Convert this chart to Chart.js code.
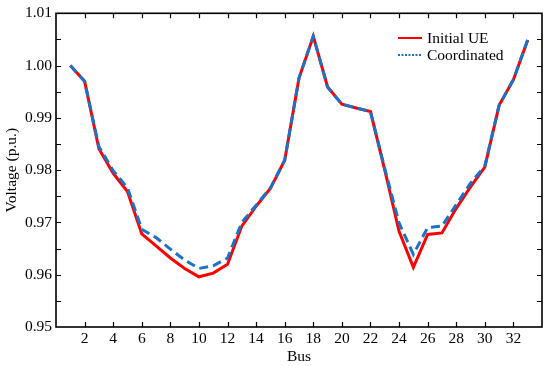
<!DOCTYPE html>
<html>
<head>
<meta charset="utf-8">
<script src="https://cdn.jsdelivr.net/npm/chart.js@4/dist/chart.umd.min.js"></script>
<style>
html,body{margin:0;padding:0;background:#fff;}
#wrap{width:550px;height:366px;position:relative;}
</style>
</head>
<body>
<div id="wrap"><canvas id="c" width="550" height="366"></canvas></div>
<script>
const buses = [1,2,3,4,5,6,7,8,9,10,11,12,13,14,15,16,17,18,19,20,21,22,23,24,25,26,27,28,29,30,31,32,33];
const initialUE = [1.0000,0.9970,0.9841,0.9794,0.9759,0.9678,0.9655,0.9632,0.9612,0.9596,0.9603,0.9620,0.9693,0.9731,0.9765,0.9819,0.9976,1.0056,0.9959,0.9926,0.9919,0.9912,0.9800,0.9683,0.9614,0.9677,0.9680,0.9727,0.9768,0.9806,0.9924,0.9973,1.0049];
const coordinated = [1.0000,0.9970,0.9845,0.9799,0.9766,0.9687,0.9671,0.9649,0.9628,0.9612,0.9617,0.9632,0.9700,0.9733,0.9766,0.9819,0.9976,1.0056,0.9959,0.9926,0.9919,0.9912,0.9803,0.9699,0.9639,0.9690,0.9693,0.9734,0.9775,0.9808,0.9924,0.9973,1.0049];
const seriesNames = ['Initial UE','Coordinated'];
const xTitle = 'Bus';
const yTitle = 'Voltage (p.u.)';

const FONT = '"Liberation Serif", "Times New Roman", serif';
const RED = '#ff0000';
const BLUE = '#1a72c9';

const frame = {
  id: 'frame',
  afterDatasetsDraw(chart) {
    const {ctx, chartArea: a, scales: {x, y}} = chart;
    ctx.save();
    ctx.strokeStyle = '#000';
    ctx.lineWidth = 1.2;
    const T = 5;
    ctx.beginPath();
    x.ticks.forEach(t => {
      if (t.value <= x.min || t.value >= x.max) return;
      const px = Math.round(x.getPixelForValue(t.value)) + 0.5;
      ctx.moveTo(px, a.bottom); ctx.lineTo(px, a.bottom - T);
      ctx.moveTo(px, a.top); ctx.lineTo(px, a.top + T);
    });
    y.ticks.forEach(t => {
      if (t.value <= y.min + 1e-9 || t.value >= y.max - 1e-9) return;
      const py = Math.round(y.getPixelForValue(t.value)) + 0.5;
      ctx.moveTo(a.left, py); ctx.lineTo(a.left + T, py);
      ctx.moveTo(a.right, py); ctx.lineTo(a.right - T, py);
    });
    ctx.stroke();
    ctx.lineWidth = 1.6;
    ctx.strokeRect(a.left, a.top, a.right - a.left, a.bottom - a.top);

    // legend
    const lx0 = 398, lx1 = 422, tx = 427;
    const rows = [{y: 38, c: RED, dash: [], w: 2, t: seriesNames[0]},
                  {y: 55, c: BLUE, dash: [2, 1.5], w: 2, t: seriesNames[1]}];
    ctx.font = '15.5px ' + FONT;
    ctx.textBaseline = 'middle';
    ctx.textAlign = 'left';
    rows.forEach(r => {
      ctx.beginPath();
      ctx.setLineDash(r.dash);
      ctx.strokeStyle = r.c;
      ctx.lineWidth = r.w;
      ctx.moveTo(lx0, r.y); ctx.lineTo(lx1, r.y);
      ctx.stroke();
      ctx.setLineDash([]);
      ctx.fillStyle = '#000';
      ctx.fillText(r.t, tx, r.y + 1);
    });
    ctx.restore();
  }
};

new Chart(document.getElementById('c'), {
  type: 'line',
  data: {
    labels: buses,
    datasets: [
      {label: seriesNames[0], data: buses.map((b, i) => ({x: b, y: initialUE[i]})),
       borderColor: RED, borderWidth: 3, pointRadius: 0, tension: 0, fill: false, order: 2},
      {label: seriesNames[1], data: buses.map((b, i) => ({x: b, y: coordinated[i]})),
       borderColor: BLUE, borderWidth: 3, borderDash: [9, 5], pointRadius: 0, tension: 0, fill: false, order: 1}
    ]
  },
  options: {
    responsive: false,
    animation: false,
    devicePixelRatio: 1,
    layout: {padding: {top: 9.5, right: 8, left: 0, bottom: 0}},
    plugins: {legend: {display: false}, tooltip: {enabled: false}},
    scales: {
      x: {
        type: 'linear', min: 0, max: 34,
        grid: {display: false, drawTicks: false},
        border: {display: false},
        ticks: {stepSize: 2, padding: 3, color: '#000', font: {family: FONT, size: 15.5},
                maxRotation: 0, autoSkip: false,
                callback: v => (v <= 0 || v >= 34) ? '' : String(v)},
        title: {display: true, text: xTitle, color: '#000', font: {family: FONT, size: 15.5}, padding: {top: 0, bottom: 0}},
        afterFit: s => { s.height = 39; }
      },
      y: {
        type: 'linear', min: 0.95, max: 1.01,
        grid: {display: false, drawTicks: false},
        border: {display: false},
        ticks: {stepSize: 0.005, padding: 4, color: '#000', font: {family: FONT, size: 15.5}, autoSkip: false,
                callback: v => Math.abs(v * 100 - Math.round(v * 100)) < 1e-6 ? v.toFixed(2) : ''},
        title: {display: true, text: yTitle, color: '#000', font: {family: FONT, size: 15.5}, padding: {top: 3, bottom: 0}},
        afterFit: s => { s.width = 56; }
      }
    }
  },
  plugins: [frame]
});
</script>
</body>
</html>
